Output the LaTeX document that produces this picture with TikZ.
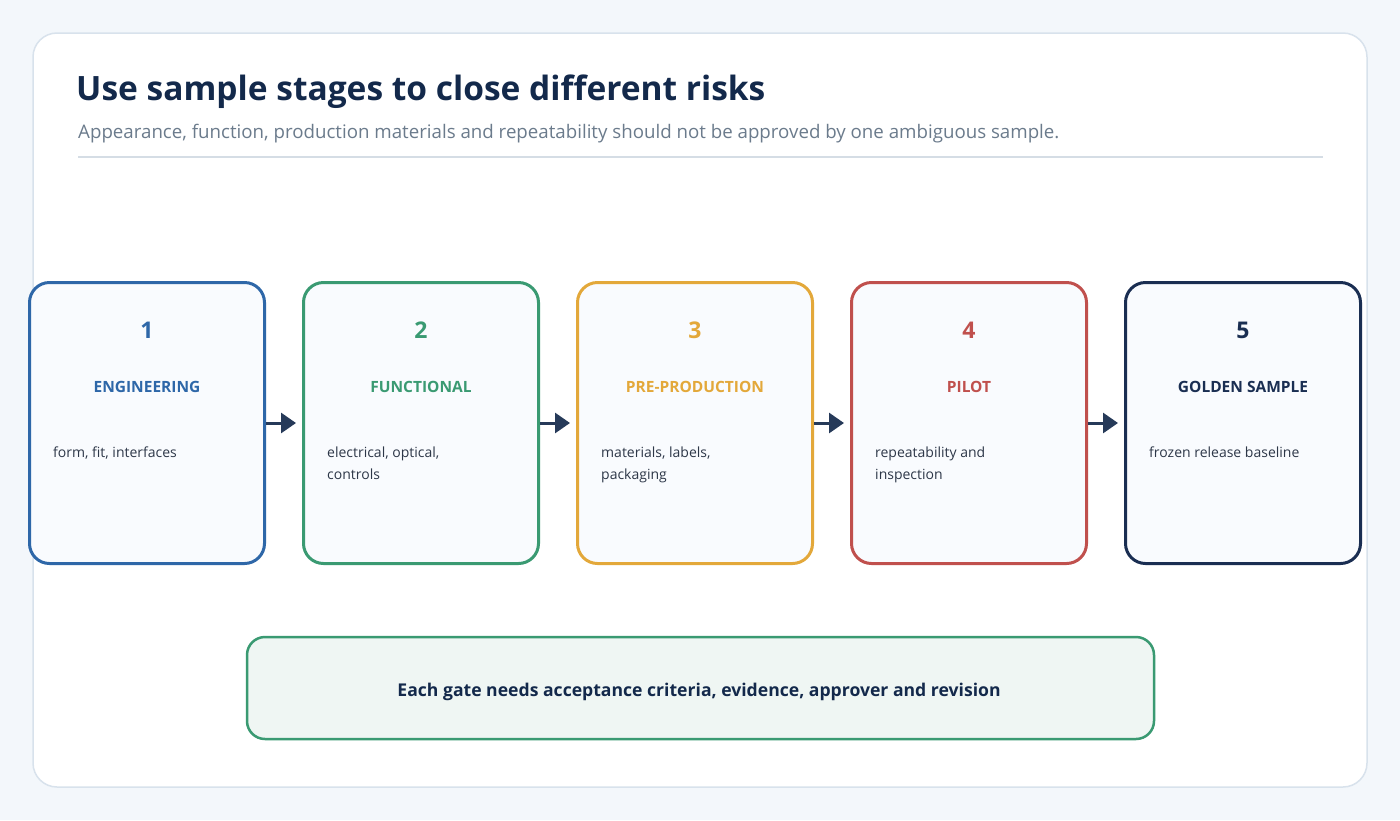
\documentclass[tikz,border=0pt]{standalone}
\usepackage{fontspec}
\setmainfont{Open Sans}
\usetikzlibrary{arrows.meta}
\definecolor{pagebg}{HTML}{F3F7FB}
\definecolor{cardline}{HTML}{D8E2EC}
\definecolor{titlec}{HTML}{13294B}
\definecolor{subc}{HTML}{6B7B8C}
\definecolor{rulec}{HTML}{D5DDE5}
\definecolor{cblue}{HTML}{2E67A8}
\definecolor{cgreen}{HTML}{3A9A72}
\definecolor{camber}{HTML}{E3A83A}
\definecolor{cred}{HTML}{C0504D}
\definecolor{cnavy}{HTML}{1A2E52}
\definecolor{boxfill}{HTML}{F9FBFE}
\definecolor{descc}{HTML}{2D3748}
\definecolor{arrowc}{HTML}{263A59}
\definecolor{notefill}{HTML}{EFF6F3}
\tikzset{
  stagebox/.style={draw=#1, line width=3pt, fill=boxfill, rounded corners=20pt, minimum width=235pt, minimum height=281pt, inner sep=0pt},
  numtext/.style={text=#1, font=\fontsize{23}{27}\selectfont\bfseries, inner sep=0pt},
  headtext/.style={text=#1, font=\fontsize{15.5}{18}\selectfont\bfseries, inner sep=0pt},
  desctext/.style={text=descc, font=\fontsize{14}{22}\selectfont, inner sep=0pt, anchor=west, align=left},
  flowarrow/.style={draw=arrowc, line width=3pt, -{Triangle[length=15pt,width=20pt]}},
}
\begin{document}
\begin{tikzpicture}[x=1pt,y=-1pt]
\useasboundingbox (0,0) rectangle (1400,820);
\fill[pagebg] (0,0) rectangle (1400,820);
\draw[cardline, line width=1.5pt, fill=white, rounded corners=24pt] (33,33) rectangle (1367,787);
\node[anchor=west, text=titlec, font=\fontsize{33.5}{40}\selectfont\bfseries, inner sep=0pt] (title) at (76,92) {Use sample stages to close different risks};
\node[anchor=west, text=subc, font=\fontsize{18.7}{22}\selectfont, inner sep=0pt] (subtitle) at (78,134) {Appearance, function, production materials and repeatability should not be approved by one ambiguous sample.};
\draw[rulec, line width=1.5pt] (78,157) -- (1323,157);

\foreach \i/\c/\h/\d in {1/cblue/ENGINEERING/{form, fit, interfaces},
                         2/cgreen/FUNCTIONAL/{electrical, optical,\\controls},
                         3/camber/PRE-PRODUCTION/{materials, labels,\\packaging},
                         4/cred/PILOT/{repeatability and\\inspection},
                         5/cnavy/GOLDEN SAMPLE/{frozen release baseline}}{
  \pgfmathsetmacro{\cx}{147+274*(\i-1)}
  \node[stagebox=\c] (b\i) at (\cx,423) {};
  \node[numtext=\c] (n\i) at (\cx,330) {\i};
  \node[headtext=\c] (h\i) at (\cx,387) {\h};
  \node[desctext, anchor=north west] (d\i) at (\cx-94,447) {\d};
}
\foreach \a/\b in {1/2,2/3,3/4,4/5}{
  \coordinate (t\a) at ([xshift=30pt]b\a.east);
  \draw[flowarrow] (b\a.east) -- (t\a);
}
\node[draw=cgreen, line width=2.5pt, fill=notefill, rounded corners=18pt, minimum width=907pt, minimum height=102pt, inner sep=0pt] (note) at (700.5,688) {};
\node[text=titlec, font=\fontsize{17.6}{21}\selectfont\bfseries, inner sep=0pt] (notetext) at (699,692) {Each gate needs acceptance criteria, evidence, approver and revision};
\end{tikzpicture}
\end{document}
